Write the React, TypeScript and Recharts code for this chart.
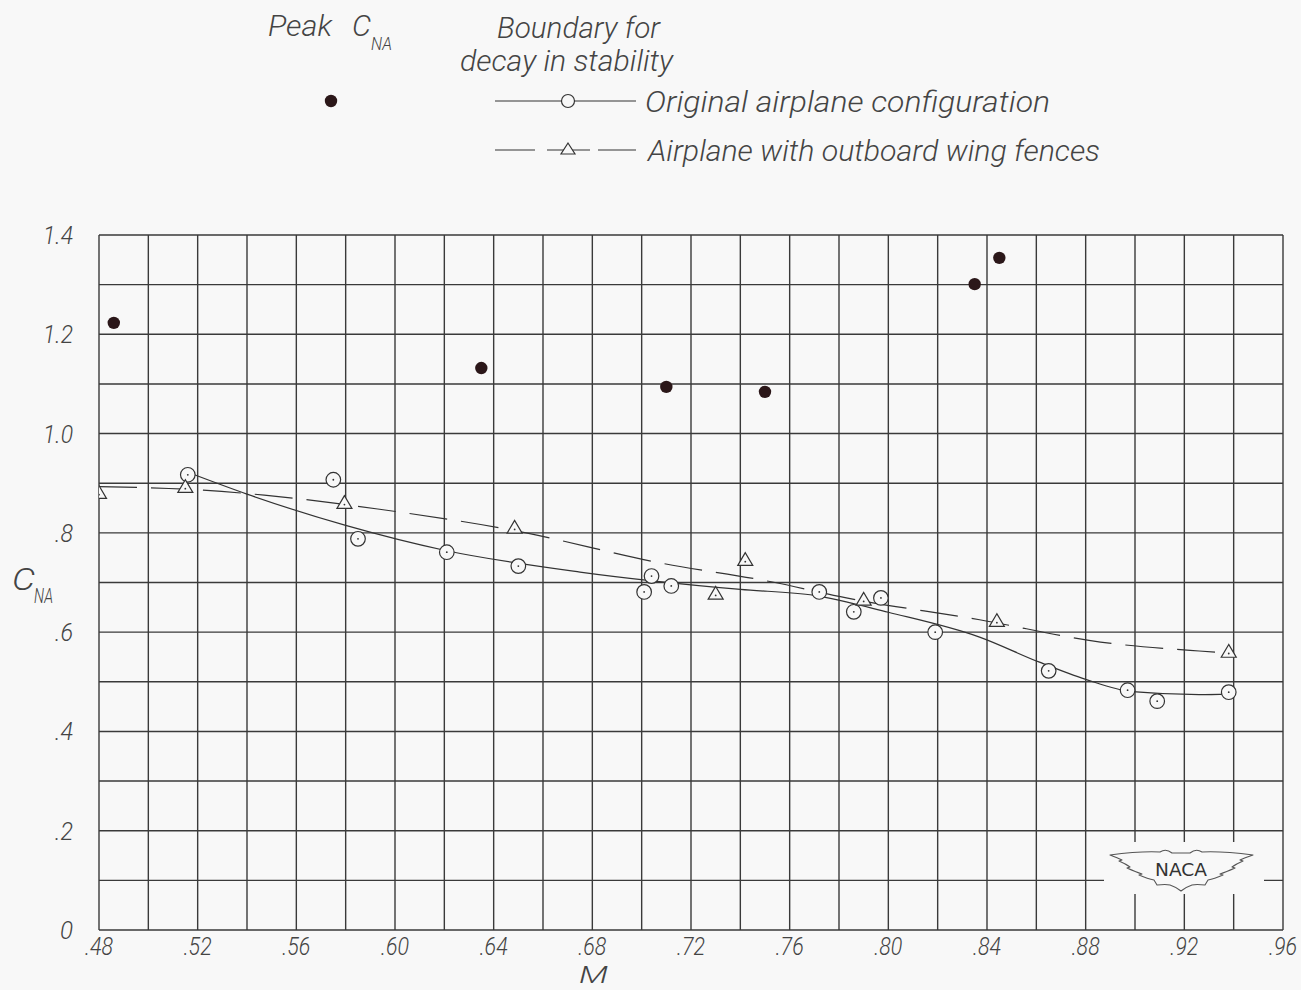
import React from "react";
import { ComposedChart, XAxis, YAxis, CartesianGrid, Line, Scatter } from "recharts";

// ---- data ----
const peakCna = [
  { x: 0.486, y: 1.223 },
  { x: 0.635, y: 1.132 },
  { x: 0.710, y: 1.094 },
  { x: 0.750, y: 1.084 },
  { x: 0.835, y: 1.301 },
  { x: 0.845, y: 1.354 },
];

const originalPoints = [
  { x: 0.516, y: 0.917 },
  { x: 0.575, y: 0.907 },
  { x: 0.585, y: 0.788 },
  { x: 0.621, y: 0.761 },
  { x: 0.650, y: 0.733 },
  { x: 0.701, y: 0.681 },
  { x: 0.704, y: 0.713 },
  { x: 0.712, y: 0.693 },
  { x: 0.772, y: 0.681 },
  { x: 0.786, y: 0.641 },
  { x: 0.797, y: 0.669 },
  { x: 0.819, y: 0.600 },
  { x: 0.865, y: 0.522 },
  { x: 0.897, y: 0.483 },
  { x: 0.909, y: 0.461 },
  { x: 0.938, y: 0.479 },
];

const originalFaired = [
  { x: 0.516, y: 0.922 },
  { x: 0.540, y: 0.878 },
  { x: 0.580, y: 0.815 },
  { x: 0.620, y: 0.765 },
  { x: 0.675, y: 0.721 },
  { x: 0.740, y: 0.686 },
  { x: 0.770, y: 0.674 },
  { x: 0.800, y: 0.640 },
  { x: 0.837, y: 0.590 },
  { x: 0.861, y: 0.540 },
  { x: 0.880, y: 0.505 },
  { x: 0.899, y: 0.480 },
  { x: 0.926, y: 0.474 },
  { x: 0.938, y: 0.475 },
];

const fencePoints = [
  { x: 0.480, y: 0.880 },
  { x: 0.515, y: 0.892 },
  { x: 0.5795, y: 0.860 },
  { x: 0.6485, y: 0.810 },
  { x: 0.730, y: 0.677 },
  { x: 0.742, y: 0.745 },
  { x: 0.790, y: 0.665 },
  { x: 0.844, y: 0.622 },
  { x: 0.938, y: 0.560 },
];

const fenceFaired = [
  { x: 0.480, y: 0.893 },
  { x: 0.515, y: 0.888 },
  { x: 0.547, y: 0.876 },
  { x: 0.593, y: 0.848 },
  { x: 0.647, y: 0.806 },
  { x: 0.708, y: 0.739 },
  { x: 0.753, y: 0.701 },
  { x: 0.783, y: 0.669 },
  { x: 0.837, y: 0.625 },
  { x: 0.886, y: 0.580 },
  { x: 0.926, y: 0.562 },
  { x: 0.938, y: 0.558 },
];

const xTicks = [0.48, 0.50, 0.52, 0.54, 0.56, 0.58, 0.60, 0.62, 0.64, 0.66, 0.68, 0.70, 0.72, 0.74, 0.76, 0.78, 0.80, 0.82, 0.84, 0.86, 0.88, 0.90, 0.92, 0.94, 0.96];
const xTickLabels = [".48", "", ".52", "", ".56", "", ".60", "", ".64", "", ".68", "", ".72", "", ".76", "", ".80", "", ".84", "", ".88", "", ".92", "", ".96"];
const yTicks = [0, 0.1, 0.2, 0.3, 0.4, 0.5, 0.6, 0.7, 0.8, 0.9, 1.0, 1.1, 1.2, 1.3, 1.4];
const yTickLabels = ["0", "", ".2", "", ".4", "", ".6", "", ".8", "", "1.0", "", "1.2", "", "1.4"];

// ---- style ----
const FONT = "Roboto, 'Open Sans', sans-serif";
const INK = "#333";
const TEXT = "#444";

const XTick = (props: any) => {
  const { x, y, payload } = props;
  const i = xTicks.findIndex((t) => Math.abs(t - payload.value) < 1e-6);
  const label = i >= 0 ? xTickLabels[i] : "";
  if (!label) return null;
  return (
    <text x={x} y={y + 25} textAnchor="middle" fontFamily={FONT} fontStyle="italic" fontWeight={300}
      fontSize={25} fill={TEXT} textLength={28} lengthAdjust="spacingAndGlyphs">
      {label}
    </text>
  );
};

const YTick = (props: any) => {
  const { x, y, payload } = props;
  const i = yTicks.findIndex((t) => Math.abs(t - payload.value) < 1e-6);
  const label = i >= 0 ? yTickLabels[i] : "";
  if (!label) return null;
  const len = label.length === 3 ? 30 : label.length === 2 ? 18 : 13;
  return (
    <text x={x - 26} y={y + 9} textAnchor="end" fontFamily={FONT} fontStyle="italic" fontWeight={300}
      fontSize={26} fill={TEXT} textLength={len} lengthAdjust="spacingAndGlyphs">
      {label}
    </text>
  );
};

const OpenCircle = (props: any) => {
  const { cx, cy } = props;
  if (cx == null || cy == null) return null;
  return (
    <g>
      <circle cx={cx} cy={cy} r={7.3} fill="#f8f8f8" stroke={INK} strokeWidth={1.2} />
      <circle cx={cx} cy={cy} r={0.9} fill={INK} />
    </g>
  );
};

const OpenTriangle = (props: any) => {
  const { cx, cy } = props;
  if (cx == null || cy == null) return null;
  const s = 7.5;
  return (
    <g>
      <polygon points={`${cx},${cy - s} ${cx - s},${cy + s * 0.7} ${cx + s},${cy + s * 0.7}`}
        fill="#f8f8f8" stroke={INK} strokeWidth={1.2} />
      <circle cx={cx} cy={cy + 1.5} r={0.9} fill={INK} />
    </g>
  );
};

const FilledDot = (props: any) => {
  const { cx, cy } = props;
  if (cx == null || cy == null) return null;
  return <circle cx={cx} cy={cy} r={6.2} fill="#2b1719" />;
};

const legendText = { fontFamily: FONT, fontStyle: "italic" as const, fontWeight: 300, fill: TEXT };

const Overlay = () => (
  <svg width={1301} height={990} style={{ position: "absolute", left: 0, top: 0, pointerEvents: "none" }}>
    {/* Header legend */}
    <text x={268} y={36} fontSize={30} {...legendText} textLength={64} lengthAdjust="spacingAndGlyphs">Peak</text>
    <text x={352} y={36} fontSize={30} {...legendText} textLength={19} lengthAdjust="spacingAndGlyphs">C</text>
    <text x={371} y={50} fontSize={19} {...legendText} textLength={21} lengthAdjust="spacingAndGlyphs">NA</text>
    <text x={497} y={38} fontSize={30} {...legendText} textLength={163} lengthAdjust="spacingAndGlyphs">Boundary for</text>
    <text x={460} y={71} fontSize={30} {...legendText} textLength={213} lengthAdjust="spacingAndGlyphs">decay in stability</text>
    <circle cx={331} cy={101} r={6.2} fill="#2b1719" />
    <line x1={495} y1={101} x2={561} y2={101} stroke={INK} strokeWidth={1.2} />
    <line x1={575} y1={101} x2={636} y2={101} stroke={INK} strokeWidth={1.2} />
    <circle cx={568} cy={101} r={6.5} fill="none" stroke={INK} strokeWidth={1.2} />
    <text x={645} y={112} fontSize={30} {...legendText} textLength={405} lengthAdjust="spacingAndGlyphs">Original   airplane   configuration</text>
    <line x1={495} y1={150} x2={535} y2={150} stroke={INK} strokeWidth={1.2} />
    <line x1={547} y1={150} x2={590} y2={150} stroke={INK} strokeWidth={1.2} />
    <line x1={598} y1={150} x2={636} y2={150} stroke={INK} strokeWidth={1.2} />
    <polygon points="568,143 561,154 575,154" fill="#f8f8f8" stroke={INK} strokeWidth={1.2} />
    <text x={648} y={161} fontSize={30} {...legendText} textLength={452} lengthAdjust="spacingAndGlyphs">Airplane  with  outboard  wing  fences</text>

    {/* Axis titles */}
    <text x={12} y={590} fontSize={32} {...legendText} textLength={23} lengthAdjust="spacingAndGlyphs">C</text>
    <text x={34} y={603} fontSize={20} {...legendText} textLength={19} lengthAdjust="spacingAndGlyphs">NA</text>
    <text x={579} y={983} fontSize={24} {...legendText} textLength={29} lengthAdjust="spacingAndGlyphs">M</text>

    {/* NACA emblem */}
    <rect x={1104} y={842} width={160} height={52} fill="#f8f8f8" />
    <path
      d="M1110,855 Q1140,851 1160,852 Q1166,848 1172,853 L1190,853 Q1196,848 1202,852 Q1222,851 1253,855
         Q1244,858 1240,860 L1243,861 Q1236,864 1232,867 L1235,868 Q1226,872 1220,874 L1223,875
         Q1214,879 1208,880 L1205,885 Q1196,884 1192,885 Q1186,887 1181,891 Q1176,887 1170,885
         Q1166,884 1157,885 L1154,880 Q1148,879 1139,875 L1142,874 Q1136,872 1127,868 L1130,867
         Q1126,864 1119,861 L1122,860 Q1118,858 1110,855 Z"
      fill="#f8f8f8" stroke="#555" strokeWidth={1.1} strokeLinejoin="round" />
    <text x={1181} y={876} textAnchor="middle" fontFamily="'DejaVu Sans', sans-serif" fontSize={17} fill="#333"
      textLength={52} lengthAdjust="spacingAndGlyphs">NACA</text>
  </svg>
);

export default function App() {
  return (
    <div style={{ position: "absolute", left: 0, top: 0, width: 1301, height: 990, background: "#f8f8f8" }}>
      <ComposedChart width={1301} height={990} margin={{ top: 235, right: 18, left: 0, bottom: 10 }}>
        <CartesianGrid stroke="#3a3a3a" strokeWidth={1.4} horizontal vertical />
        <XAxis type="number" dataKey="x" domain={[0.48, 0.96]} ticks={xTicks} interval={0}
          axisLine={false} tickLine={false} tickSize={0} tickMargin={0} height={50} tick={<XTick />}
          allowDataOverflow />
        <YAxis type="number" dataKey="y" domain={[0, 1.4]} ticks={yTicks} interval={0}
          axisLine={false} tickLine={false} tickSize={0} tickMargin={0} width={99} tick={<YTick />}
          allowDataOverflow />
        <Line data={originalFaired} dataKey="y" type="monotone" stroke={INK} strokeWidth={1.2}
          dot={false} activeDot={false} isAnimationActive={false} />
        <Line data={fenceFaired} dataKey="y" type="monotone" stroke={INK} strokeWidth={1.2}
          strokeDasharray="38 14" dot={false} activeDot={false} isAnimationActive={false} />
        <Scatter data={originalPoints} dataKey="y" shape={<OpenCircle />} isAnimationActive={false} />
        <Scatter data={fencePoints} dataKey="y" shape={<OpenTriangle />} isAnimationActive={false} />
        <Scatter data={peakCna} dataKey="y" shape={<FilledDot />} isAnimationActive={false} />
      </ComposedChart>
      <Overlay />
    </div>
  );
}
